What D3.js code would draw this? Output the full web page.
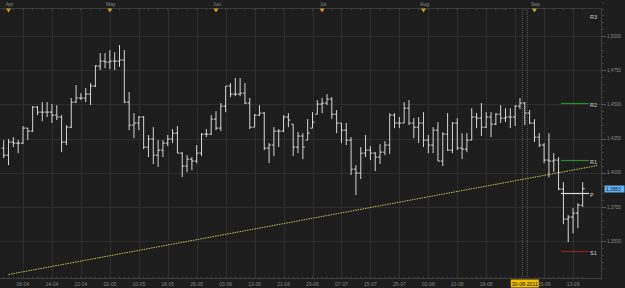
<!DOCTYPE html>
<html>
<head>
<meta charset="utf-8">
<script src="https://cdn.jsdelivr.net/npm/d3@7/dist/d3.min.js"></script>
<style>
html, body { margin: 0; padding: 0; background: #1d1d1d; }
svg { display: block; }
text { font-family: "Liberation Sans", Arial, sans-serif; }
</style>
</head>
<body>
<svg id="chart" width="625" height="288"></svg>
<script>
// EUR/USD daily bars, 31-03-2011 .. 15-09-2011 (weekdays)
var firstDay = "2011-03-31";
var lastDay = "2011-09-15";

var open = [1.4180,1.4128,1.4224,1.4216,1.4216,1.4326,1.4304,1.4480,1.4443,1.4443,1.4443,1.4421,1.4407,1.4224,1.4333,1.4516,1.4546,1.4546,1.4575,1.4634,
    1.4780,1.4816,1.4809,1.4816,1.4816,1.4824,1.4516,1.4348,1.4363,1.4407,1.4187,1.4246,1.4128,1.4165,1.4216,1.4246,1.4289,1.4143,1.4048,1.4099,
    1.4085,1.4143,1.4282,1.4282,1.4392,1.4326,1.4487,1.4634,1.4575,1.4575,1.4582,1.4509,1.4333,1.4421,1.4436,1.4180,1.4202,1.4304,1.4304,1.4407,
    1.4355,1.4187,1.4268,1.4238,1.4326,1.4428,1.4502,1.4509,1.4538,1.4428,1.4363,1.4311,1.4238,1.4026,1.3997,1.4143,1.4165,1.4143,1.4114,1.4150,
    1.4202,1.4421,1.4363,1.4363,1.4472,1.4363,1.4333,1.4363,1.4238,1.4202,1.4311,1.4085,1.4282,1.4165,1.4363,1.4180,1.4172,1.4238,1.4407,1.4399,
    1.4333,1.4407,1.4355,1.4428,1.4399,1.4407,1.4407,1.4487,1.4509,1.4436,1.4363,1.4260,1.4202,1.4092,1.4085,1.4092,1.3880,1.3660,1.3675,1.3704,
    1.3762];
var high = [1.4238,1.4246,1.4260,1.4238,1.4341,1.4326,1.4487,1.4487,1.4516,1.4516,1.4502,1.4494,1.4421,1.4348,1.4546,1.4641,1.4582,1.4619,1.4655,1.4787,
    1.4875,1.4875,1.4897,1.4882,1.4934,1.4897,1.4590,1.4436,1.4414,1.4414,1.4275,1.4333,1.4238,1.4238,1.4275,1.4319,1.4341,1.4150,1.4128,1.4114,
    1.4202,1.4289,1.4319,1.4421,1.4450,1.4509,1.4634,1.4655,1.4692,1.4692,1.4655,1.4546,1.4428,1.4494,1.4443,1.4216,1.4333,1.4319,1.4421,1.4436,
    1.4355,1.4297,1.4289,1.4392,1.4443,1.4531,1.4546,1.4575,1.4553,1.4458,1.4363,1.4363,1.4260,1.4055,1.4187,1.4275,1.4194,1.4150,1.4209,1.4231,
    1.4436,1.4436,1.4407,1.4516,1.4531,1.4399,1.4407,1.4443,1.4275,1.4333,1.4370,1.4297,1.4436,1.4370,1.4399,1.4289,1.4289,1.4472,1.4436,1.4509,
    1.4443,1.4443,1.4436,1.4494,1.4472,1.4472,1.4494,1.4546,1.4516,1.4458,1.4392,1.4289,1.4216,1.4289,1.4143,1.4114,1.3931,1.3689,1.3741,1.3777,
    1.3931];
var low = [1.4107,1.4055,1.4187,1.4143,1.4209,1.4238,1.4297,1.4421,1.4377,1.4407,1.4363,1.4385,1.4150,1.4202,1.4326,1.4509,1.4531,1.4516,1.4494,1.4626,
    1.4751,1.4765,1.4758,1.4751,1.4773,1.4509,1.4311,1.4253,1.4311,1.4172,1.4114,1.4063,1.4041,1.4114,1.4194,1.4216,1.4143,1.3967,1.4004,1.4019,
    1.4070,1.4121,1.4260,1.4275,1.4311,1.4304,1.4443,1.4553,1.4560,1.4560,1.4502,1.4319,1.4333,1.4414,1.4165,1.4070,1.4121,1.4187,1.4297,1.4333,
    1.4121,1.4143,1.4099,1.4238,1.4326,1.4428,1.4436,1.4494,1.4392,1.4289,1.4216,1.4202,1.3982,1.3836,1.3953,1.4114,1.4092,1.4011,1.4063,1.4128,
    1.4136,1.4326,1.4326,1.4363,1.4348,1.4253,1.4216,1.4187,1.4143,1.4143,1.4085,1.4048,1.4158,1.4143,1.4165,1.4099,1.4150,1.4238,1.4326,1.4268,
    1.4326,1.4260,1.4348,1.4363,1.4370,1.4326,1.4341,1.4465,1.4348,1.4355,1.4224,1.4187,1.4070,1.3967,1.4004,1.3872,1.3623,1.3492,1.3557,1.3594,
    1.3748];
var close = [1.4128,1.4224,1.4216,1.4216,1.4326,1.4304,1.4480,1.4443,1.4443,1.4443,1.4421,1.4407,1.4224,1.4333,1.4516,1.4546,1.4546,1.4575,1.4634,1.4780,
    1.4816,1.4809,1.4816,1.4816,1.4824,1.4516,1.4348,1.4363,1.4407,1.4187,1.4246,1.4128,1.4165,1.4216,1.4246,1.4289,1.4143,1.4048,1.4099,1.4085,
    1.4143,1.4282,1.4282,1.4392,1.4326,1.4487,1.4634,1.4575,1.4575,1.4582,1.4509,1.4333,1.4421,1.4436,1.4180,1.4202,1.4304,1.4304,1.4407,1.4385,
    1.4187,1.4268,1.4187,1.4289,1.4370,1.4502,1.4509,1.4538,1.4428,1.4363,1.4311,1.4238,1.4026,1.3997,1.4143,1.4165,1.4143,1.4114,1.4150,1.4202,
    1.4421,1.4363,1.4363,1.4472,1.4363,1.4333,1.4363,1.4238,1.4202,1.4311,1.4085,1.4282,1.4165,1.4363,1.4180,1.4172,1.4238,1.4407,1.4399,1.4333,
    1.4407,1.4355,1.4428,1.4399,1.4407,1.4407,1.4487,1.4509,1.4436,1.4363,1.4260,1.4202,1.4092,1.4085,1.4092,1.3880,1.3660,1.3675,1.3704,1.3762,
    1.3883];

var dateLabels = ["06-04","14-04","22-04","02-05","10-05","18-05","26-05","03-06","13-06","21-06",
    "29-06","07-07","15-07","25-07","02-08","10-08","18-08","26-08","05-09","13-09"];
var monthLabels = ["Apr","May","Jun","Jul","Aug","Sep"];
var priceTicks = [1.35, 1.375, 1.40, 1.425, 1.45, 1.475, 1.50];

var pivotNames = ["R3","R2","R1","P","S1"];
var pivotValues = [1.5155, 1.4510, 1.4093, 1.3851, 1.3427];
var pivotColors = ["none","#2c8a2c","#2c8a2c","#dcdcdc","#8c1f1f"];

var trendDates = ["2011-04-01","2011-09-20"];
var trendValues = [1.3255, 1.4052];

var markedDate = "30-08-2011";
var lastPrice = 1.3883;

// ---------------------------------------------------------------
var W = 625, H = 288;
var plotRight = 601, plotTop = 8, plotBottom = 278;

var parse = d3.timeParse("%Y-%m-%d");
var isWeekday = function(d){ return d.getDay() > 0 && d.getDay() < 6; };
var start = parse(firstDay);
var dates = d3.timeDay.range(start, d3.timeDay.offset(parse(lastDay), 1)).filter(isWeekday);

function dayIndex(d){
    return d3.timeDay.range(start, d).filter(isWeekday).length;
}

var fmtDM = d3.timeFormat("%d-%m");
var fmtDMY = d3.timeFormat("%d-%m-%Y");
var fmtMon = d3.timeFormat("%b");
var fmtPrice = function(v){ return d3.format(".4f")(v).replace(".", ","); };

var x = d3.scaleLinear().domain([0, 120]).range([3.7, 582.7]);
var y = d3.scaleLinear().domain([1.35, 1.50]).range([241, 36]);

var svg = d3.select("#chart");

svg.append("rect").attr("width", W).attr("height", H).attr("fill", "#1d1d1d");

svg.append("defs").append("clipPath").attr("id", "plotclip")
    .append("rect").attr("x", 0).attr("y", plotTop).attr("width", plotRight).attr("height", plotBottom - plotTop);

var labelIdx = dateLabels.map(function(l){
    return dates.findIndex(function(d){ return fmtDM(d) === l; });
});
var markIdx = dates.findIndex(function(d){ return fmtDMY(d) === markedDate; });

// grid
var grid = svg.append("g").attr("stroke", "#2d2d2d").attr("stroke-width", 1);
grid.selectAll("line.v").data(labelIdx).enter().append("line")
    .attr("x1", function(i){ return Math.round(x(i)) + 0.5; })
    .attr("x2", function(i){ return Math.round(x(i)) + 0.5; })
    .attr("y1", plotTop).attr("y2", plotBottom);
grid.selectAll("line.h").data(priceTicks).enter().append("line")
    .attr("x1", 0).attr("x2", plotRight)
    .attr("y1", function(v){ return Math.round(y(v)) + 0.5; })
    .attr("y2", function(v){ return Math.round(y(v)) + 0.5; });

// marked day boundaries
svg.append("g").selectAll("line").data([markIdx - 0.5, markIdx + 0.5]).enter().append("line")
    .attr("x1", function(i){ return x(i); }).attr("x2", function(i){ return x(i); })
    .attr("y1", plotTop).attr("y2", plotBottom)
    .attr("stroke", "#5a5a5a").attr("stroke-dasharray", "1,1");

// top month strip
svg.append("line").attr("x1", 0).attr("x2", plotRight).attr("y1", plotTop + 0.5).attr("y2", plotTop + 0.5)
    .attr("stroke", "#3a3a3a");
svg.append("g").selectAll("line").data(d3.range(0, dates.length, 2)).enter().append("line")
    .attr("x1", function(i){ return x(i); }).attr("x2", function(i){ return x(i); })
    .attr("y1", plotTop + 1).attr("y2", plotTop + 2.5)
    .attr("stroke", "#444");

var monthIdx = monthLabels.map(function(m){
    return dates.findIndex(function(d){ return fmtMon(d) === m; });
});
svg.append("g").selectAll("text").data(monthLabels).enter().append("text")
    .attr("x", function(m, k){ return x(monthIdx[k]) + 1; })
    .attr("y", 6)
    .attr("text-anchor", "middle")
    .attr("font-size", 5)
    .attr("fill", "#8a8a8a")
    .text(function(m){ return m; });
svg.append("g").selectAll("path").data(monthIdx).enter().append("path")
    .attr("d", function(i){
        var cx = x(i);
        return "M" + (cx - 2.5) + "," + (plotTop + 0.5) + "L" + (cx + 2.5) + "," + (plotTop + 0.5) + "L" + cx + "," + (plotTop + 4.5) + "Z";
    })
    .attr("fill", "#c9a22a");

// trend line
var trendIdx = trendDates.map(function(s){ return dayIndex(parse(s)); });
svg.append("line")
    .attr("clip-path", "url(#plotclip)")
    .attr("x1", x(trendIdx[0])).attr("y1", y(trendValues[0]))
    .attr("x2", x(trendIdx[1])).attr("y2", y(trendValues[1]))
    .attr("stroke", "#c8c25a").attr("stroke-width", 1)
    .attr("stroke-dasharray", "1.5,1");

// pivot levels
var pivStart = 115.5, pivEnd = 121.3;
var piv = svg.append("g");
piv.selectAll("line").data(pivotValues).enter().append("line")
    .attr("x1", x(pivStart)).attr("x2", x(pivEnd))
    .attr("y1", function(v){ return Math.round(y(v)) + 0.5; })
    .attr("y2", function(v){ return Math.round(y(v)) + 0.5; })
    .attr("stroke-width", 1.2)
    .attr("stroke", function(v, k){ return pivotColors[k]; });
piv.selectAll("text").data(pivotValues).enter().append("text")
    .attr("x", x(pivEnd) + 1)
    .attr("y", function(v){ return y(v) + 4; })
    .attr("font-size", 5.5)
    .attr("fill", "#cfcfcf")
    .text(function(v, k){ return pivotNames[k]; });

// OHLC bars
var bars = svg.append("g").attr("clip-path", "url(#plotclip)")
    .attr("stroke", "#d6d6d6").attr("stroke-width", 1)
    .selectAll("g").data(dates).enter().append("g");
bars.append("line")
    .attr("x1", function(d, i){ return x(i); }).attr("x2", function(d, i){ return x(i); })
    .attr("y1", function(d, i){ return y(high[i]); })
    .attr("y2", function(d, i){ return y(low[i]); });
bars.append("line")
    .attr("x1", function(d, i){ return x(i) - 2; }).attr("x2", function(d, i){ return x(i); })
    .attr("y1", function(d, i){ return y(open[i]); })
    .attr("y2", function(d, i){ return y(open[i]); });
bars.append("line")
    .attr("x1", function(d, i){ return x(i); }).attr("x2", function(d, i){ return x(i) + 2; })
    .attr("y1", function(d, i){ return y(close[i]); })
    .attr("y2", function(d, i){ return y(close[i]); });

// right price axis
svg.append("line").attr("x1", plotRight + 0.5).attr("x2", plotRight + 0.5)
    .attr("y1", plotTop).attr("y2", plotBottom + 2).attr("stroke", "#3e3e3e");
svg.append("g").selectAll("line").data(d3.range(1.330, 1.5251, 0.005)).enter().append("line")
    .attr("x1", plotRight + 1).attr("x2", plotRight + 3)
    .attr("y1", function(v){ return Math.round(y(v)) + 0.5; })
    .attr("y2", function(v){ return Math.round(y(v)) + 0.5; })
    .attr("stroke", "#3e3e3e");
svg.append("g").selectAll("line").data(priceTicks).enter().append("line")
    .attr("x1", plotRight + 1).attr("x2", plotRight + 5)
    .attr("y1", function(v){ return Math.round(y(v)) + 0.5; })
    .attr("y2", function(v){ return Math.round(y(v)) + 0.5; })
    .attr("stroke", "#555");
svg.append("g").selectAll("text").data(priceTicks).enter().append("text")
    .attr("x", 607).attr("y", function(v){ return y(v) + 1.8; })
    .attr("font-size", 4.6).attr("fill", "#8a8a8a")
    .text(fmtPrice);

svg.append("rect").attr("x", 604.5).attr("y", Math.round(y(lastPrice)) - 3.5)
    .attr("width", 20).attr("height", 7).attr("fill", "#63b2ec");
svg.append("text").attr("x", 606).attr("y", y(lastPrice) + 1.9)
    .attr("font-size", 4.8).attr("fill", "#0b2a52")
    .text(fmtPrice(lastPrice));

// bottom date axis
svg.append("line").attr("x1", 0).attr("x2", plotRight + 1)
    .attr("y1", plotBottom + 0.5).attr("y2", plotBottom + 0.5).attr("stroke", "#3e3e3e");
svg.append("g").selectAll("line").data(d3.range(dates.length)).enter().append("line")
    .attr("x1", function(i){ return x(i); }).attr("x2", function(i){ return x(i); })
    .attr("y1", plotBottom - 1.5).attr("y2", plotBottom)
    .attr("stroke", "#3e3e3e");

// labels that sit fully under the marked-date box are hidden, as in the original
var shownLabels = dateLabels.filter(function(l, k){ return Math.abs(labelIdx[k] - markIdx) > 3; });
svg.append("g").selectAll("text").data(shownLabels).enter().append("text")
    .attr("x", function(l){ return x(labelIdx[dateLabels.indexOf(l)]); })
    .attr("y", 286)
    .attr("text-anchor", "middle")
    .attr("font-size", 5)
    .attr("fill", "#858585")
    .text(function(l){ return l; });

svg.append("rect").attr("x", x(markIdx) - 14).attr("y", 279.5)
    .attr("width", 28).attr("height", 8).attr("fill", "#f0c000");
svg.append("text").attr("x", x(markIdx)).attr("y", 286)
    .attr("text-anchor", "middle").attr("font-size", 5.2).attr("fill", "#111")
    .text(markedDate);
</script>
</body>
</html>
